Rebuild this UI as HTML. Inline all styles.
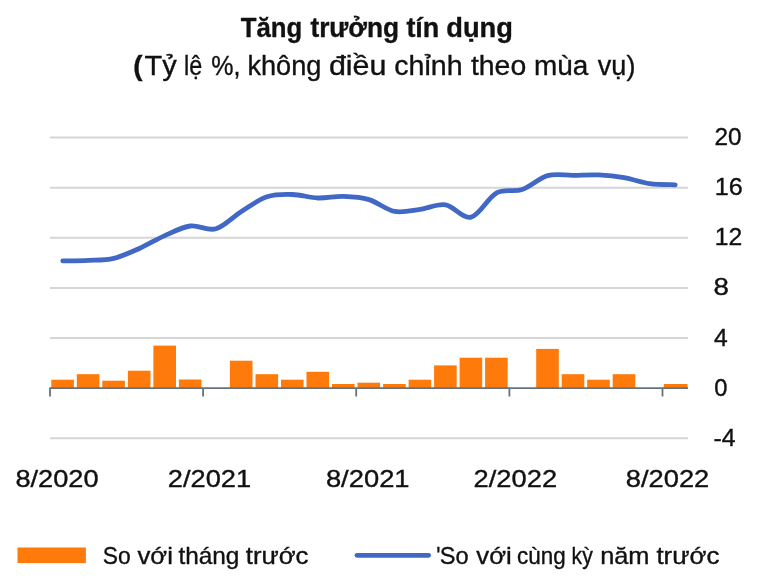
<!DOCTYPE html>
<html lang="vi"><head><meta charset="utf-8"><title>Tăng trưởng tín dụng</title>
<style>html,body{margin:0;padding:0;background:#fff}svg{display:block}text{font-family:"Liberation Sans",sans-serif;fill:#111;stroke:#111;stroke-width:.35px}</style></head><body>
<svg width="758" height="581" viewBox="0 0 758 581">
<rect width="758" height="581" fill="#fff"/>
<line x1="50.0" y1="137.6" x2="688.0" y2="137.6" stroke="#d6d6d6" stroke-width="2"/>
<line x1="50.0" y1="187.7" x2="688.0" y2="187.7" stroke="#d6d6d6" stroke-width="2"/>
<line x1="50.0" y1="237.8" x2="688.0" y2="237.8" stroke="#d6d6d6" stroke-width="2"/>
<line x1="50.0" y1="287.9" x2="688.0" y2="287.9" stroke="#d6d6d6" stroke-width="2"/>
<line x1="50.0" y1="338.0" x2="688.0" y2="338.0" stroke="#d6d6d6" stroke-width="2"/>
<line x1="50.0" y1="438.2" x2="688.0" y2="438.2" stroke="#d6d6d6" stroke-width="2"/>
<rect x="51.3" y="379.7" width="22.6" height="8.4" fill="#fe7a0a"/>
<rect x="76.8" y="374.2" width="22.6" height="13.9" fill="#fe7a0a"/>
<rect x="102.3" y="380.7" width="22.6" height="7.4" fill="#fe7a0a"/>
<rect x="127.9" y="370.7" width="22.6" height="17.4" fill="#fe7a0a"/>
<rect x="153.4" y="345.6" width="22.6" height="42.5" fill="#fe7a0a"/>
<rect x="178.9" y="379.5" width="22.6" height="8.6" fill="#fe7a0a"/>
<rect x="229.9" y="360.7" width="22.6" height="27.4" fill="#fe7a0a"/>
<rect x="255.5" y="374.2" width="22.6" height="13.9" fill="#fe7a0a"/>
<rect x="281.0" y="379.7" width="22.6" height="8.4" fill="#fe7a0a"/>
<rect x="306.5" y="371.8" width="22.6" height="16.3" fill="#fe7a0a"/>
<rect x="332.0" y="384.0" width="22.6" height="4.1" fill="#fe7a0a"/>
<rect x="357.5" y="382.7" width="22.6" height="5.4" fill="#fe7a0a"/>
<rect x="383.1" y="384.0" width="22.6" height="4.1" fill="#fe7a0a"/>
<rect x="408.6" y="379.7" width="22.6" height="8.4" fill="#fe7a0a"/>
<rect x="434.1" y="365.4" width="22.6" height="22.7" fill="#fe7a0a"/>
<rect x="459.6" y="357.7" width="22.6" height="30.4" fill="#fe7a0a"/>
<rect x="485.1" y="357.7" width="22.6" height="30.4" fill="#fe7a0a"/>
<rect x="536.2" y="348.9" width="22.6" height="39.2" fill="#fe7a0a"/>
<rect x="561.7" y="374.2" width="22.6" height="13.9" fill="#fe7a0a"/>
<rect x="587.2" y="379.7" width="22.6" height="8.4" fill="#fe7a0a"/>
<rect x="612.7" y="374.2" width="22.6" height="13.9" fill="#fe7a0a"/>
<rect x="663.8" y="384.0" width="23.7" height="4.1" fill="#fe7a0a"/>
<line x1="49.2" y1="388.1" x2="688.0" y2="388.1" stroke="#66737d" stroke-width="1.8"/>
<line x1="50.0" y1="388.1" x2="50.0" y2="396.5" stroke="#66737d" stroke-width="1.8"/>
<line x1="203.1" y1="388.1" x2="203.1" y2="396.5" stroke="#66737d" stroke-width="1.8"/>
<line x1="356.2" y1="388.1" x2="356.2" y2="396.5" stroke="#66737d" stroke-width="1.8"/>
<line x1="509.4" y1="388.1" x2="509.4" y2="396.5" stroke="#66737d" stroke-width="1.8"/>
<line x1="662.5" y1="388.1" x2="662.5" y2="396.5" stroke="#66737d" stroke-width="1.8"/>
<path d="M62.8 260.9 C67.0 260.8 79.8 260.7 88.3 260.3 C96.8 259.9 105.3 260.3 113.8 258.3 C122.3 256.3 130.8 252.3 139.3 248.5 C147.8 244.7 156.3 239.3 164.8 235.6 C173.3 231.8 181.9 227.1 190.4 226.0 C198.9 224.9 207.4 231.2 215.9 228.8 C224.4 226.4 232.9 216.8 241.4 211.5 C249.9 206.2 258.4 199.6 266.9 196.8 C275.4 194.0 283.9 194.3 292.4 194.5 C300.9 194.7 309.5 197.7 318.0 198.0 C326.5 198.3 335.0 196.1 343.5 196.4 C352.0 196.7 360.5 197.1 369.0 199.6 C377.5 202.1 386.0 209.8 394.5 211.4 C403.0 213.0 411.5 210.5 420.0 209.4 C428.5 208.3 437.1 203.5 445.6 204.8 C454.1 206.1 462.6 219.2 471.1 217.2 C479.6 215.2 488.1 197.4 496.6 192.8 C505.1 188.2 513.6 192.5 522.1 189.6 C530.6 186.7 539.1 178.0 547.6 175.6 C556.1 173.2 564.7 175.4 573.2 175.3 C581.7 175.2 590.2 174.5 598.7 174.9 C607.2 175.3 615.7 176.2 624.2 177.7 C632.7 179.2 641.2 182.5 649.7 183.7 C658.2 184.9 671.0 184.6 675.2 184.8" fill="none" stroke="#4068c4" stroke-width="4.8" stroke-linecap="round" stroke-linejoin="round"/>
<text x="240.7" y="36.9" font-size="27" font-weight="bold" textLength="61.5" lengthAdjust="spacingAndGlyphs">Tăng</text>
<text x="310.4" y="36.9" font-size="27" font-weight="bold" textLength="88.7" lengthAdjust="spacingAndGlyphs">trưởng</text>
<text x="406.4" y="36.9" font-size="27" font-weight="bold" textLength="32.9" lengthAdjust="spacingAndGlyphs">tín</text>
<text x="446.3" y="36.9" font-size="27" font-weight="bold" textLength="66.6" lengthAdjust="spacingAndGlyphs">dụng</text>
<text x="133.3" y="75.0" font-size="27" font-weight="bold" textLength="9.3" lengthAdjust="spacingAndGlyphs">(</text>
<text x="144.6" y="75.0" font-size="27" textLength="32.2" lengthAdjust="spacingAndGlyphs">Tỷ</text>
<text x="184.0" y="75.0" font-size="27" textLength="18.2" lengthAdjust="spacingAndGlyphs">lệ</text>
<text x="211.3" y="75.0" font-size="27" textLength="29.2" lengthAdjust="spacingAndGlyphs">%,</text>
<text x="247.4" y="75.0" font-size="27" textLength="74.0" lengthAdjust="spacingAndGlyphs">không</text>
<text x="328.9" y="75.0" font-size="27" textLength="57.6" lengthAdjust="spacingAndGlyphs">điều</text>
<text x="394.3" y="75.0" font-size="27" textLength="68.3" lengthAdjust="spacingAndGlyphs">chỉnh</text>
<text x="470.9" y="75.0" font-size="27" textLength="55.3" lengthAdjust="spacingAndGlyphs">theo</text>
<text x="534.0" y="75.0" font-size="27" textLength="54.3" lengthAdjust="spacingAndGlyphs">mùa</text>
<text x="597.8" y="75.0" font-size="27" textLength="37.6" lengthAdjust="spacingAndGlyphs">vụ)</text>
<text x="102.7" y="563.6" font-size="23.6" textLength="27.9" lengthAdjust="spacingAndGlyphs">So</text>
<text x="137.5" y="563.6" font-size="23.6" textLength="35.4" lengthAdjust="spacingAndGlyphs">với</text>
<text x="178.4" y="563.6" font-size="23.6" textLength="61.0" lengthAdjust="spacingAndGlyphs">tháng</text>
<text x="245.8" y="563.6" font-size="23.6" textLength="62.7" lengthAdjust="spacingAndGlyphs">trước</text>
<text x="436.2" y="563.6" font-size="23.6" textLength="4.2" lengthAdjust="spacingAndGlyphs">'</text>
<text x="439.7" y="563.6" font-size="23.6" textLength="28.8" lengthAdjust="spacingAndGlyphs">So</text>
<text x="476.3" y="563.6" font-size="23.6" textLength="35.4" lengthAdjust="spacingAndGlyphs">với</text>
<text x="517.0" y="563.6" font-size="23.6" textLength="48.6" lengthAdjust="spacingAndGlyphs">cùng</text>
<text x="571.6" y="563.6" font-size="23.6" textLength="21.2" lengthAdjust="spacingAndGlyphs">kỳ</text>
<text x="600.2" y="563.6" font-size="23.6" textLength="49.3" lengthAdjust="spacingAndGlyphs">năm</text>
<text x="656.4" y="563.6" font-size="23.6" textLength="63.1" lengthAdjust="spacingAndGlyphs">trước</text>
<text x="15.4" y="486.8" font-size="23.4" textLength="83.2" lengthAdjust="spacingAndGlyphs">8/2020</text>
<text x="167.8" y="486.8" font-size="23.4" textLength="83.3" lengthAdjust="spacingAndGlyphs">2/2021</text>
<text x="325.9" y="486.8" font-size="23.4" textLength="83.7" lengthAdjust="spacingAndGlyphs">8/2021</text>
<text x="473.6" y="486.8" font-size="23.4" textLength="83.5" lengthAdjust="spacingAndGlyphs">2/2022</text>
<text x="625.8" y="486.8" font-size="23.4" textLength="83.5" lengthAdjust="spacingAndGlyphs">8/2022</text>
<text x="714.5" y="145.1" font-size="23.4" textLength="27.1" lengthAdjust="spacingAndGlyphs">20</text>
<text x="714.7" y="195.2" font-size="23.4" textLength="28.0" lengthAdjust="spacingAndGlyphs">16</text>
<text x="714.7" y="245.3" font-size="23.4" textLength="27.5" lengthAdjust="spacingAndGlyphs">12</text>
<text x="713.5" y="295.4" font-size="23.4" textLength="15.4" lengthAdjust="spacingAndGlyphs">8</text>
<text x="714.0" y="345.5" font-size="23.4" textLength="13.7" lengthAdjust="spacingAndGlyphs">4</text>
<text x="714.3" y="395.6" font-size="23.4" textLength="13.2" lengthAdjust="spacingAndGlyphs">0</text>
<text x="713.6" y="445.7" font-size="23.4" textLength="22.1" lengthAdjust="spacingAndGlyphs">-4</text>
<rect x="17.5" y="547.5" width="68.4" height="15.6" fill="#fe7a0a"/>
<line x1="357" y1="555.3" x2="428.6" y2="555.3" stroke="#4068c4" stroke-width="4.8" stroke-linecap="round"/>
</svg></body></html>
